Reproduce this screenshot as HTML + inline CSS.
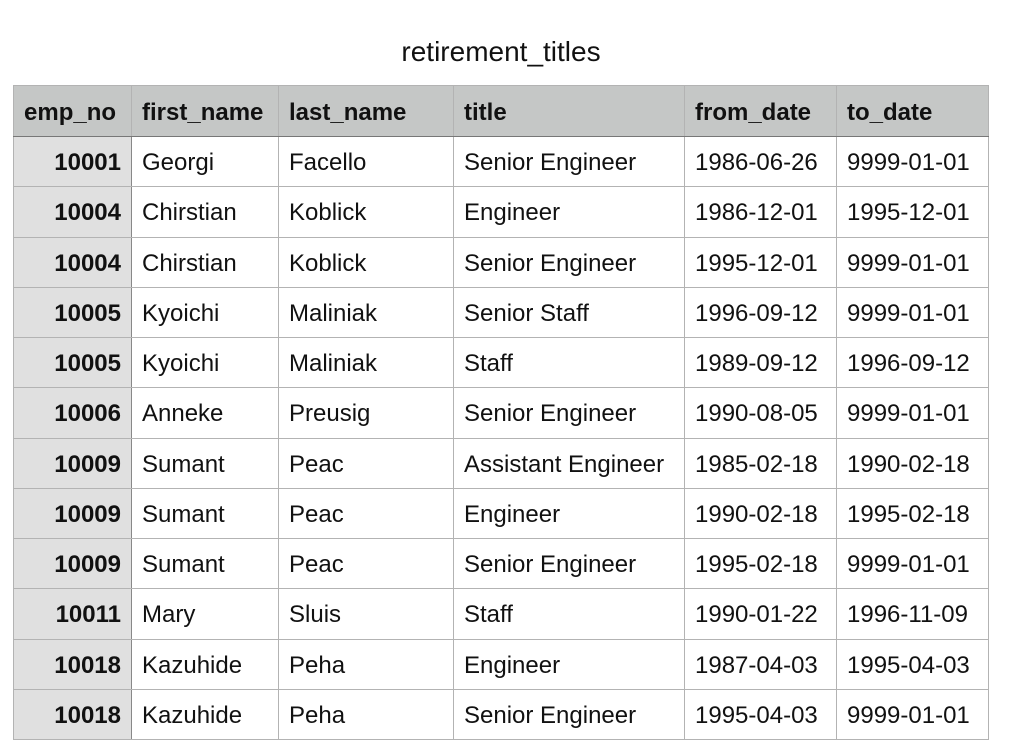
<!DOCTYPE html>
<html><head><meta charset="utf-8"><style>
body{margin:0;width:1014px;height:740px;background:#fff;overflow:hidden;font-family:"Liberation Sans",Arial,sans-serif;position:relative}
#title{position:absolute;left:0;width:1002px;top:36px;text-align:center;font-size:28px;color:#111}
table{position:absolute;left:13px;top:85px;border-collapse:collapse;table-layout:fixed;font-size:24px;color:#111}
td,th{border:1px solid #b3b3b3;height:49.25px;padding:3px 10px 0 10px;box-sizing:border-box;white-space:nowrap;overflow:hidden;text-align:left;font-weight:normal}
th{background:#c5c7c6;font-weight:bold;border-bottom:1px solid #777;height:51px}
td.id{background:#e0e0e0;font-weight:bold;text-align:right;border-right:1px solid #888}
th.id{border-right:1px solid #b3b3b3}
tr{height:50.25px}
</style></head><body>
<div id="title">retirement_titles</div>
<table>
<colgroup><col style="width:118px"><col style="width:147px"><col style="width:175px"><col style="width:231px"><col style="width:152px"><col style="width:152px"></colgroup>
<thead><tr>
<th class="id">emp_no</th>
<th>first_name</th>
<th>last_name</th>
<th>title</th>
<th>from_date</th>
<th>to_date</th>
</tr></thead>
<tbody>
<tr><td class="id">10001</td><td>Georgi</td><td>Facello</td><td>Senior Engineer</td><td>1986-06-26</td><td>9999-01-01</td></tr>
<tr><td class="id">10004</td><td>Chirstian</td><td>Koblick</td><td>Engineer</td><td>1986-12-01</td><td>1995-12-01</td></tr>
<tr><td class="id">10004</td><td>Chirstian</td><td>Koblick</td><td>Senior Engineer</td><td>1995-12-01</td><td>9999-01-01</td></tr>
<tr><td class="id">10005</td><td>Kyoichi</td><td>Maliniak</td><td>Senior Staff</td><td>1996-09-12</td><td>9999-01-01</td></tr>
<tr><td class="id">10005</td><td>Kyoichi</td><td>Maliniak</td><td>Staff</td><td>1989-09-12</td><td>1996-09-12</td></tr>
<tr><td class="id">10006</td><td>Anneke</td><td>Preusig</td><td>Senior Engineer</td><td>1990-08-05</td><td>9999-01-01</td></tr>
<tr><td class="id">10009</td><td>Sumant</td><td>Peac</td><td>Assistant Engineer</td><td>1985-02-18</td><td>1990-02-18</td></tr>
<tr><td class="id">10009</td><td>Sumant</td><td>Peac</td><td>Engineer</td><td>1990-02-18</td><td>1995-02-18</td></tr>
<tr><td class="id">10009</td><td>Sumant</td><td>Peac</td><td>Senior Engineer</td><td>1995-02-18</td><td>9999-01-01</td></tr>
<tr><td class="id">10011</td><td>Mary</td><td>Sluis</td><td>Staff</td><td>1990-01-22</td><td>1996-11-09</td></tr>
<tr><td class="id">10018</td><td>Kazuhide</td><td>Peha</td><td>Engineer</td><td>1987-04-03</td><td>1995-04-03</td></tr>
<tr><td class="id">10018</td><td>Kazuhide</td><td>Peha</td><td>Senior Engineer</td><td>1995-04-03</td><td>9999-01-01</td></tr>
</tbody></table>
</body></html>
